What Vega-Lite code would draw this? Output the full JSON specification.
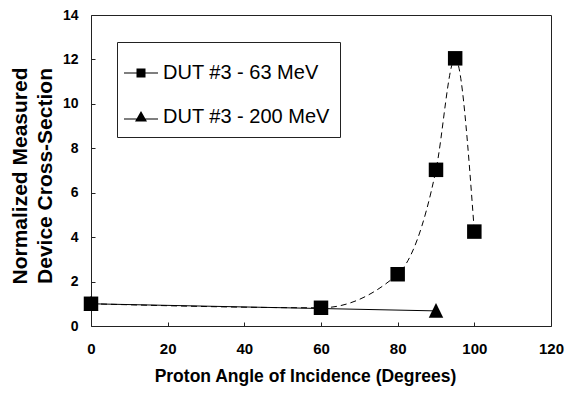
{
  "$schema": "https://vega.github.io/schema/vega-lite/v6.json",
  "width": 460,
  "height": 311,
  "autosize": {"type": "none"},
  "padding": {"left": 91, "top": 15, "right": 15, "bottom": 67},
  "background": "white",
  "config": {
    "view": {"stroke": "#222", "strokeWidth": 1},
    "font": "Liberation Sans"
  },
  "data": {
    "values": [
      {"series": "DUT #3 - 63 MeV", "angle": 0, "value": 1.0},
      {"series": "DUT #3 - 63 MeV", "angle": 60, "value": 0.82},
      {"series": "DUT #3 - 63 MeV", "angle": 80, "value": 2.33},
      {"series": "DUT #3 - 63 MeV", "angle": 90, "value": 7.03},
      {"series": "DUT #3 - 63 MeV", "angle": 95, "value": 12.05},
      {"series": "DUT #3 - 63 MeV", "angle": 100, "value": 4.25},
      {"series": "DUT #3 - 200 MeV", "angle": 0, "value": 1.0},
      {"series": "DUT #3 - 200 MeV", "angle": 90, "value": 0.68}
    ]
  },
  "encoding": {
    "x": {
      "field": "angle",
      "type": "quantitative",
      "scale": {"domain": [0, 120], "nice": false, "zero": false},
      "axis": {
        "values": [0, 20, 40, 60, 80, 100, 120],
        "title": "Proton Angle of Incidence (Degrees)",
        "domain": false,
        "grid": false,
        "tickSize": -4,
        "tickColor": "#222",
        "labelPadding": 19,
        "labelFont": "Liberation Sans",
        "labelFontWeight": "bold",
        "labelFontSize": 15,
        "labelColor": "black",
        "labelFlush": false,
        "titleFont": "Liberation Sans",
        "titleFontSize": 17.5,
        "titleFontWeight": "bold",
        "titleColor": "black",
        "titleX": 214,
        "titleY": 55,
        "titleAlign": "center",
        "titleBaseline": "alphabetic"
      }
    },
    "y": {
      "field": "value",
      "type": "quantitative",
      "scale": {"domain": [0, 14], "nice": false},
      "axis": {
        "values": [0, 2, 4, 6, 8, 10, 12, 14],
        "title": ["Normalized Measured", "Device Cross-Section"],
        "domain": false,
        "grid": false,
        "tickSize": -4,
        "tickColor": "#222",
        "labelPadding": 17,
        "labelFont": "Liberation Sans",
        "labelFontWeight": "bold",
        "labelFontSize": 14,
        "labelColor": "black",
        "labelFlush": false,
        "titleFont": "Liberation Sans",
        "titleFontSize": 21,
        "titleFontWeight": "bold",
        "titleColor": "black",
        "titleAngle": -90,
        "titleX": -65,
        "titleY": 160.5,
        "titleAlign": "center",
        "titleBaseline": "alphabetic",
        "titleLineHeight": 25
      }
    }
  },
  "layer": [
    {
      "transform": [{"filter": "datum.series === 'DUT #3 - 63 MeV'"}],
      "mark": {"type": "line", "interpolate": "monotone", "strokeDash": [6, 4], "color": "black", "strokeWidth": 1}
    },
    {
      "transform": [{"filter": "datum.series === 'DUT #3 - 200 MeV'"}],
      "mark": {"type": "line", "color": "black", "strokeWidth": 1}
    },
    {
      "mark": {"type": "point", "filled": true, "color": "black", "opacity": 1, "size": 210},
      "encoding": {
        "shape": {
          "field": "series",
          "type": "nominal",
          "scale": {
            "domain": ["DUT #3 - 63 MeV", "DUT #3 - 200 MeV"],
            "range": ["square", "M0,-1.1L1,0.95L-1,0.95Z"]
          },
          "legend": null
        }
      }
    },
    {
      "transform": [{"filter": "false"}],
      "mark": {"type": "point", "filled": true, "color": "black", "opacity": 1},
      "encoding": {
        "shape": {
          "field": "series",
          "type": "nominal",
          "scale": {
            "domain": ["DUT #3 - 63 MeV", "DUT #3 - 200 MeV"],
            "range": [
              "M-0.85,-0.03H0.85V0.03H-0.85ZM-0.225,-0.225H0.225V0.225H-0.225Z",
              "M-0.85,0.07H0.85V0.13H-0.85ZM0,-0.3L0.3,0.22L-0.3,0.22Z"
            ]
          },
          "legend": {
            "orient": "none",
            "legendX": 26,
            "legendY": 27,
            "title": null,
            "direction": "vertical",
            "padding": 10,
            "strokeColor": "#222",
            "fillColor": "white",
            "symbolSize": 1600,
            "symbolOffset": -7,
            "labelOffset": 1,
            "rowPadding": 13,
            "symbolFillColor": "black",
            "symbolOpacity": 1,
            "labelFont": "Liberation Sans",
            "labelFontSize": 20,
            "labelFontWeight": "normal",
            "labelColor": "black",
            "labelLimit": 300
          }
        }
      }
    }
  ],
  "resolve": {"scale": {"shape": "independent"}, "legend": {"shape": "independent"}}
}
